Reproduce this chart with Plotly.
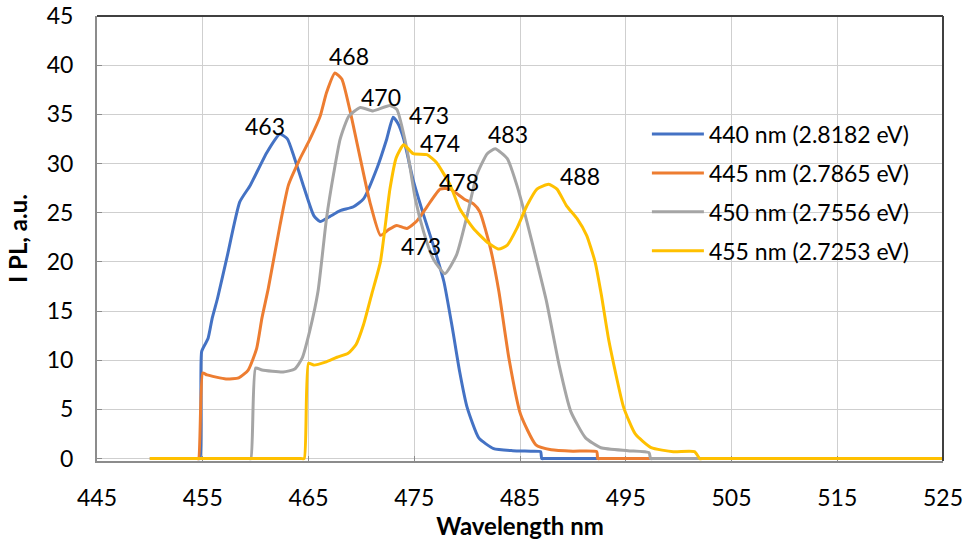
import plotly.graph_objects as go

# ---- data ----
blue_x = [450, 451, 452, 453, 454, 454.5, 454.75, 454.9, 455.5, 455.9, 456.4, 457.3, 458.5, 459.5, 461.05, 462.3,
          463.0, 463.6, 464.5, 465.5, 466.1, 467.0, 468.0, 469.25, 470.2, 471.5, 472.4, 473.0, 473.5, 474.0, 474.9,
          475.9, 476.8, 477.8, 478.6, 479.3, 480.0, 481.1, 482.5, 484.3, 486.0, 486.95, 487.05, 487.3, 488, 489,
          490, 492, 495, 500, 505, 510, 515, 520, 525]
blue_y = [0, 0, 0, 0, 0, 0, 0, 10.9, 12.2, 14.3, 16.3, 20.5, 26.1, 27.8, 31.1, 33.0,
          32.5, 30.8, 27.8, 24.7, 24.1, 24.6, 25.2, 25.6, 26.4, 29.6, 32.5, 34.7, 34.0, 32.5, 28.3,
          24.7, 21.7, 18.0, 13.3, 8.8, 5.2, 2.1, 1.0, 0.8, 0.75, 0.7, 0, 0, 0, 0,
          0, 0, 0, 0, 0, 0, 0, 0, 0]

orange_x = [450, 451, 452, 453, 454, 454.4, 454.6, 455.0, 455.4, 457.2, 458.4, 459.3, 460.1, 460.6, 461.2, 462.3,
            463.1, 464.2, 465.15, 466.1, 466.7, 467.5, 468.15, 468.9, 469.9, 470.8, 471.8, 472.6, 473.35, 474.3,
            475.2, 476.2, 477.45, 478.4, 479.7, 480.6, 481.2, 482.2, 483.0, 483.95, 485.05, 486.5, 487.95, 490.0,
            492.25, 492.35, 492.6, 493.3, 494.5, 496, 500, 505, 510, 515, 520, 525]
orange_y = [0, 0, 0, 0, 0, 0, 0, 8.7, 8.5, 8.1, 8.2, 9.0, 11.2, 14.3, 17.3, 23.7,
            27.8, 30.5, 32.5, 34.8, 37.2, 39.2, 38.6, 35.5, 30.5, 26.1, 22.7, 23.3, 23.7, 23.4,
            24.1, 25.6, 27.4, 27.4, 26.4, 25.9, 25.1, 21.4, 17.0, 10.2, 4.5, 1.4, 0.9, 0.75,
            0.7, 0, 0, 0, 0, 0, 0, 0, 0, 0, 0, 0]

gray_x = [450, 452, 454, 456, 458, 459, 459.3, 459.55, 460.0, 460.6, 462.6, 463.7, 464.4, 465.1, 465.9, 466.7,
          467.4, 468.0, 468.8, 469.9, 471.1, 472.7, 473.35, 474.3, 475.1, 475.9, 476.8, 477.9, 479.0, 480.0,
          480.9, 481.9, 482.65, 483.8, 484.7, 485.65, 486.6, 487.5, 488.7, 489.8, 491.2, 492.65, 495.2, 497.2,
          497.35, 497.6, 498.3, 499.5, 501, 505, 510, 515, 520, 525]
gray_y = [0, 0, 0, 0, 0, 0, 0, 0, 9.2, 9.0, 8.8, 9.1, 10.2, 12.9, 17.0, 24.4,
          29.1, 32.5, 34.8, 35.7, 35.35, 35.9, 35.5, 31.5, 26.4, 23.0, 20.3, 18.8, 20.7, 24.7,
          28.8, 31.0, 31.5, 30.5, 27.8, 24.1, 20.0, 16.0, 9.5, 4.8, 2.1, 1.1, 0.8, 0.6,
          0, 0, 0, 0, 0, 0, 0, 0, 0, 0]

yellow_x = [450, 451, 452, 454, 456, 458, 460, 462, 463.5, 464.3, 464.6, 465.0, 465.5, 466.6, 467.7, 468.75,
            469.5, 470.2, 471.0, 471.8, 472.7, 473.3, 474.0, 474.9, 476.2, 477.1, 478.4, 479.3, 480.6, 481.9,
            483.0, 483.8, 484.7, 485.65, 486.6, 487.7, 488.5, 489.4, 490.4, 491.3, 492.1, 492.7, 493.4, 494.8,
            495.9, 497.4, 499.5, 501.5, 502.0, 502.3, 503, 504, 506, 510, 515, 520, 525]
yellow_y = [0, 0, 0, 0, 0, 0, 0, 0, 0, 0, 0, 9.7, 9.5, 9.8, 10.3, 10.7,
            11.6, 13.6, 16.8, 20.0, 27.4, 30.6, 31.9, 31.0, 30.9, 30.1, 27.8, 25.4, 23.4, 22.0,
            21.3, 21.7, 23.4, 25.7, 27.4, 27.9, 27.4, 25.7, 24.4, 22.7, 20.0, 16.6, 12.0, 5.2,
            2.5, 1.1, 0.7, 0.7, 0, 0, 0, 0, 0, 0, 0, 0, 0]

series_names = ["440 nm (2.8182 eV)", "445 nm (2.7865 eV)", "450 nm (2.7556 eV)", "455 nm (2.7253 eV)"]
series_colors = ["#4472C4", "#ED7D31", "#A5A5A5", "#FFC000"]

peak_labels = ["463", "468", "470", "473", "474", "478", "473", "483", "488"]
peak_label_x = [460.9, 468.8, 471.9, 476.4, 477.4, 479.2, 475.6, 483.9, 490.7]
peak_label_y = [33.8, 40.9, 36.8, 34.9, 32.1, 28.1, 21.6, 33.0, 28.7]

x_ticks = [445, 455, 465, 475, 485, 495, 505, 515, 525]
y_ticks = [0, 5, 10, 15, 20, 25, 30, 35, 40, 45]

FONT = "Lato"
FS = 23

fig = go.Figure()
for i, (xs, ys, name, col) in enumerate(zip([blue_x, orange_x, gray_x, yellow_x],
                                            [blue_y, orange_y, gray_y, yellow_y],
                                            series_names, series_colors)):
    fig.add_trace(go.Scatter(x=xs, y=ys, name=name, mode="lines", legendgroup=f"g{i}",
                             line=dict(color=col, width=3, shape="spline", smoothing=0.5)))

for t, xv, yv in zip(peak_labels, peak_label_x, peak_label_y):
    fig.add_annotation(x=xv, y=yv, text=t, showarrow=False,
                       font=dict(family=FONT, size=FS, color="#000000"))

# dark frame on top and right of the plot area
fig.add_shape(type="line", xref="x domain", yref="y domain", x0=0, x1=1, y0=1, y1=1,
              line=dict(color="#404040", width=2), layer="above")
fig.add_shape(type="line", xref="x domain", yref="y domain", x0=1, x1=1, y0=0, y1=1,
              line=dict(color="#404040", width=2), layer="above")

fig.update_layout(
    width=970, height=545,
    margin=dict(l=97, r=27, t=16, b=84),
    paper_bgcolor="white", plot_bgcolor="white",
    font=dict(family=FONT, size=FS, color="#000000"),
    legend=dict(x=0.650, y=0.783, xanchor="left", yanchor="top",
                bgcolor="rgba(0,0,0,0)", font=dict(family=FONT, size=FS),
                tracegroupgap=6, itemwidth=52),
    showlegend=True,
)
fig.update_xaxes(range=[445, 525], tickvals=x_ticks, ticktext=[str(v) for v in x_ticks],
                 showgrid=True, gridcolor="#CFCFCF", gridwidth=1,
                 showline=True, linecolor="#8C8C8C", linewidth=2, layer="below traces",
                 ticks="inside", ticklen=5, tickcolor="#8C8C8C",
                 ticklabelstandoff=15, zeroline=False, automargin=False,
                 title=dict(text="<b>Wavelength nm</b>", font=dict(family=FONT, size=24), standoff=9))
fig.update_yaxes(range=[-0.25, 45], tickvals=y_ticks,
                 showgrid=True, gridcolor="#CFCFCF", gridwidth=1,
                 showline=True, linecolor="#8C8C8C", linewidth=2, layer="below traces",
                 ticks="inside", ticklen=5, tickcolor="#8C8C8C",
                 ticklabelstandoff=17, zeroline=False, automargin=False,
                 title=dict(text="<b>I PL, a.u.</b>", font=dict(family=FONT, size=24), standoff=12))

fig.write_html("out.html", config={"displayModeBar": False},
               post_script="document.body.style.margin='0';document.body.style.padding='0';")
